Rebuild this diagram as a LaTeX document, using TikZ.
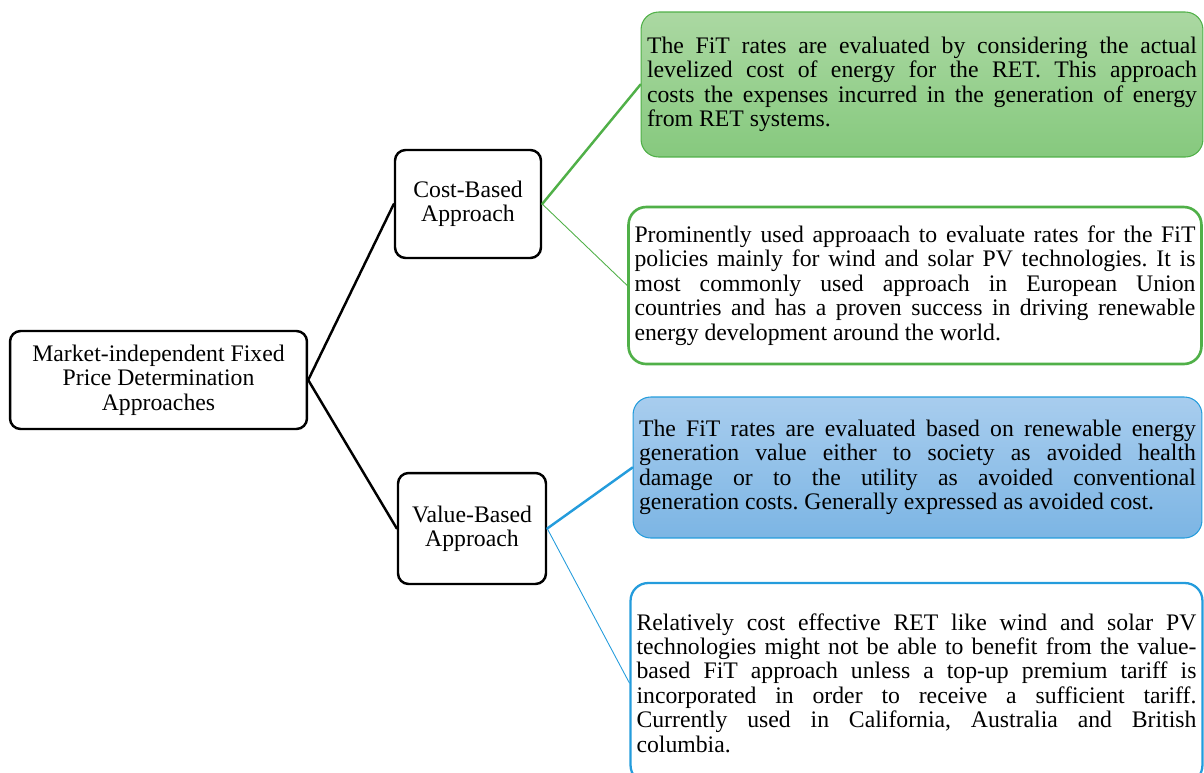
\documentclass[tikz,border=0pt]{standalone}
\usepackage{fontspec}
\setmainfont{Liberation Serif}
\usepackage{tikz}
\usepackage{color}
\frenchspacing

\begin{document}
\begin{tikzpicture}
			[x=0.02cm,y=-0.02cm,line cap=round,
			font=\fontsize{13.5pt}{13.9pt}\selectfont,
			%Styles
			stage/.style={draw,line width=1.4pt,rounded corners=6pt,align=center,inner sep=2pt},
			info/.style={rounded corners=10pt,text width=#1,align=justify,inner xsep=0.12cm,inner ysep=2pt},
			thick link/.style={line width=1.4pt},
			thin link/.style={line width=0.5pt}
			]
			
			%Colors
			\definecolor{costgreen}{RGB}{80,176,72}
			\definecolor{costtop}{RGB}{171,216,162}
			\definecolor{costbot}{RGB}{134,201,126}
			\definecolor{valueblue}{RGB}{36,156,220}
			\definecolor{valuetop}{RGB}{168,205,238}
			\definecolor{valuebot}{RGB}{124,181,228}
			
			\useasboundingbox (0,0) rectangle (1204,772);
			\clip (0,0) rectangle (1204,772);
			
			%The graphic
			\node[stage,minimum width=5.94cm,minimum height=1.96cm] (M) at (158.5,380)
				{Market-independent Fixed\\Price Determination\\Approaches};
			\node[stage,minimum width=2.92cm,minimum height=2.16cm] (C) at (468,204)
				{Cost-Based\\Approach};
			\node[stage,minimum width=2.96cm,minimum height=2.22cm] (V) at (472,528.5)
				{Value-Based\\Approach};
			
			\node[info=11cm,draw=costgreen,line width=0.6pt,top color=costtop,bottom color=costbot,
				minimum height=2.9cm] (C1) at (922,84.5)
				{The FiT rates are evaluated by considering the actual\linebreak
				levelized cost of energy for the RET. This approach\linebreak
				costs the expenses incurred in the generation of energy\linebreak
				from RET systems.};
			\node[info=11.22cm,draw=costgreen,line width=1.5pt,fill=white,
				minimum height=3.14cm] (C2) at (915,285.5)
				{Prominently used approaach to evaluate rates for the FiT\linebreak
				policies mainly for wind and solar PV technologies. It is\linebreak
				most commonly used approach in European Union\linebreak
				countries and has a proven success in driving renewable\linebreak
				energy development around the world.};
			\node[info=11.14cm,draw=valueblue,line width=0.6pt,top color=valuetop,bottom color=valuebot,
				minimum height=2.82cm] (V1) at (917.5,467.5)
				{The FiT rates are evaluated based on renewable energy\linebreak
				generation value either to society as avoided health\linebreak
				damage or to the utility as avoided conventional\linebreak
				generation costs. Generally expressed as avoided cost.};
			\node[info=11.2cm,draw=valueblue,line width=1.3pt,fill=white,
				minimum height=4cm] (V2) at (916.5,683)
				{Relatively cost effective RET like wind and solar PV\linebreak
				technologies might not be able to benefit from the value-\linebreak
				based FiT approach unless a top-up premium tariff is\linebreak
				incorporated in order to receive a sufficient tariff.\linebreak
				Currently used in California, Australia and British\linebreak
				columbia.};
			
			\path[thick link]
				(M.east) edge (C.west)
					edge (V.west);
			\draw[thick link,costgreen] (C.east) -- (C1.west);
			\draw[thin link,costgreen] (C.east) -- (C2.west);
			\draw[thick link,valueblue] (V.east) -- (V1.west);
			\draw[thin link,valueblue] (V.east) -- (V2.west);
		\end{tikzpicture}
\end{document}
